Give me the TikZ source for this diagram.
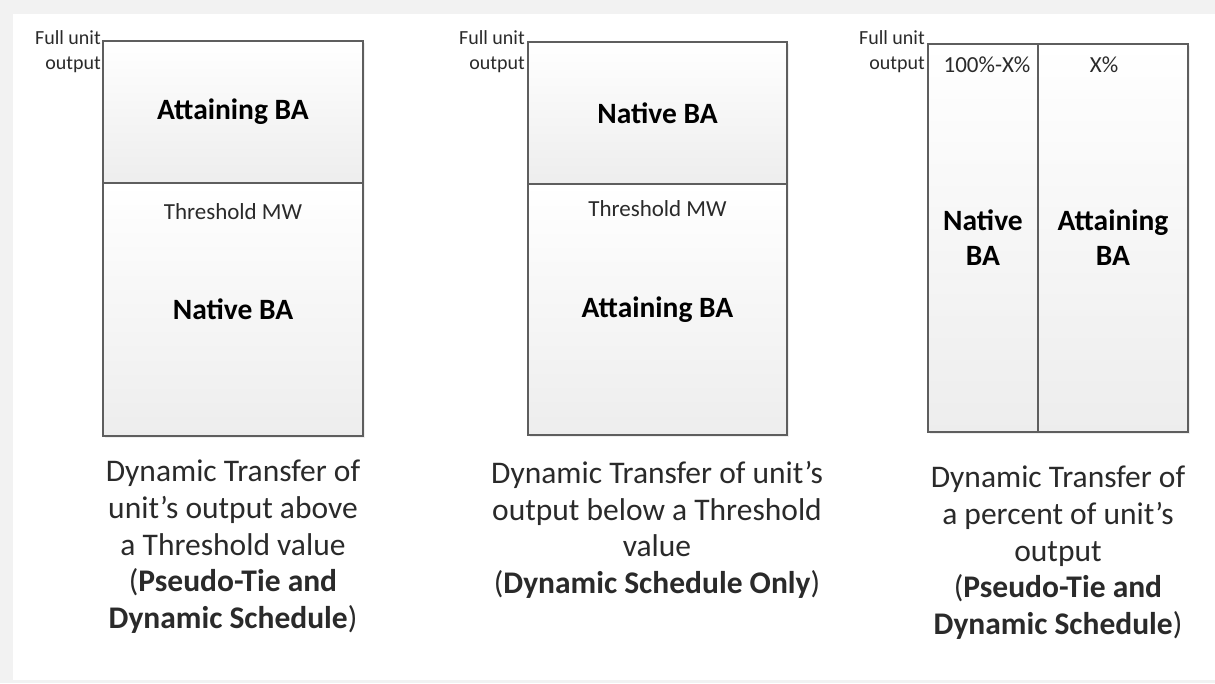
\documentclass[tikz,border=0pt]{standalone}
\usepackage{fontspec}
\setmainfont{Carlito}
\usetikzlibrary{shadows}

\definecolor{framegrey}{HTML}{F2F2F2}
\definecolor{boxline}{HTML}{5E5E5E}
\definecolor{textgrey}{HTML}{2A2A2A}

\newcommand{\capsize}{\fontsize{31.5}{36.6}\selectfont}
\newcommand{\labsize}{\fontsize{29.5}{35}\selectfont\bfseries}
\newcommand{\smallsize}{\fontsize{23}{28}\selectfont}
\newcommand{\fullsize}{\fontsize{20}{25}\selectfont}

\begin{document}
\begin{tikzpicture}[x=1pt,y=-1pt,
        part/.style={draw=boxline,line width=1.5pt,top color=white,bottom color=black!7,
            drop shadow={opacity=0.12,shadow xshift=1.5pt,shadow yshift=-1.5pt},
            inner sep=0pt,font=\labsize,align=center},
        caption/.style={anchor=north,inner sep=0pt,align=center,font=\capsize,text=textgrey},
        fullout/.style={anchor=north east,inner sep=0pt,align=right,font=\fullsize,text=textgrey},
        note/.style={inner sep=0pt,font=\smallsize,text=textgrey}]
    \fill[framegrey] (0,0) rectangle (1215,683);
    \fill[white] (13,14) rectangle (1215,680);
    \useasboundingbox (0,0) rectangle (1215,683);
    % above a threshold
    \node[part,minimum width=260pt,minimum height=142pt] (upA) at (233,112) {Attaining BA};
    \node[part,minimum width=260pt,minimum height=253pt] (lowA) at (233,309.5) {Native BA};
    \node[note] (thrA) at (233,212) {Threshold MW};
    \node[fullout] (fullA) at (101,30) {Full unit\\output};
    \node[caption] (capA) at (233,460)
        {Dynamic Transfer of\\unit’s output above\\a Threshold value\\(\textbf{Pseudo-Tie and}\\\textbf{Dynamic Schedule})};
    % below a threshold
    \node[part,minimum width=259pt,minimum height=142pt] (upB) at (657.5,113) {Native BA};
    \node[part,minimum width=259pt,minimum height=251pt] (lowB) at (657.5,309.5) {Attaining BA};
    \node[note] (thrB) at (657.5,209) {Threshold MW};
    \node[fullout] (fullB) at (525,30) {Full unit\\output};
    \node[caption] (capB) at (657,461)
        {Dynamic Transfer of unit’s\\output below a Threshold\\value\\(\textbf{Dynamic Schedule Only})};
    % percent of output
    \node[part,minimum width=110pt,minimum height=388pt] (colN) at (983,238) {Native\\BA};
    \node[part,minimum width=150pt,minimum height=388pt] (colA) at (1113,238) {Attaining\\BA};
    \node[note] (pctN) at (987,65) {100\%-X\%};
    \node[note] (pctA) at (1104,65) {X\%};
    \node[fullout] (fullC) at (925,30) {Full unit\\output};
    \node[caption] (capC) at (1058,466)
        {Dynamic Transfer of\\a percent of unit’s\\output\\(\textbf{Pseudo-Tie and}\\\textbf{Dynamic Schedule})};
\end{tikzpicture}
\end{document}
